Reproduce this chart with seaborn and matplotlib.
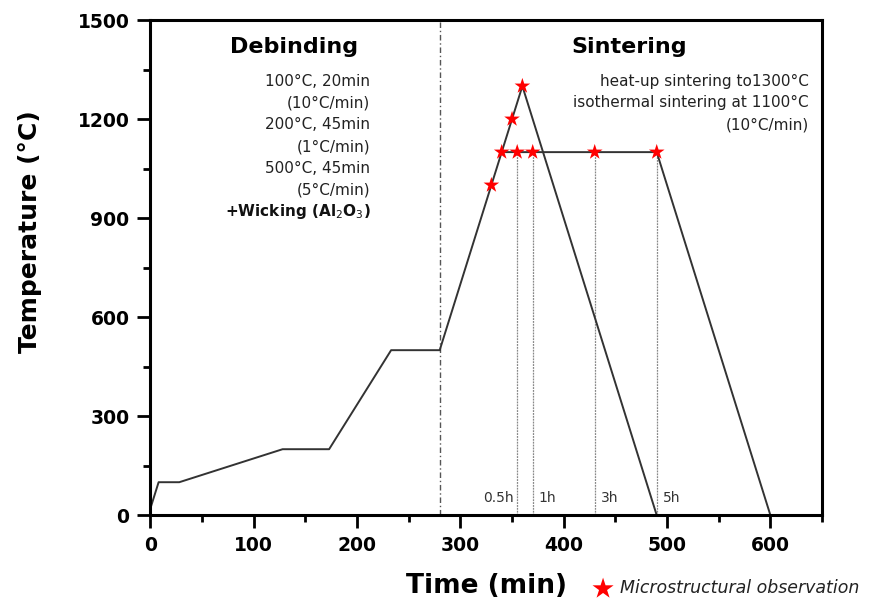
import matplotlib
matplotlib.use("Agg")
import matplotlib.pyplot as plt
import seaborn as sns
from matplotlib.ticker import MultipleLocator

# ---- data ----
debind_time = [0, 8, 28, 128, 173, 233, 280]
debind_temp = [20, 100, 100, 200, 200, 500, 500]

heatup_time = [280, 360, 490]
heatup_temp = [500, 1300, 0]

iso_time = [340, 490, 600]
iso_temp = [1100, 1100, 0]

obs_time = [330, 340, 350, 360, 355, 370, 430, 490]
obs_temp = [1000, 1100, 1200, 1300, 1100, 1100, 1100, 1100]

hold_time = [355, 370, 430, 490]
hold_labels = ["0.5h", "1h", "3h", "5h"]
hold_temp = 1100

stage_split = 280

debind_notes = ["100°C, 20min", "(10°C/min)", "200°C, 45min", "(1°C/min)",
                "500°C, 45min", "(5°C/min)"]
sinter_notes = ["heat-up sintering to1300°C", "isothermal sintering at 1100°C",
                "(10°C/min)"]

sns.set_theme(style="ticks")
plt.rcParams['font.family'] = ['DejaVu Sans']
plt.rcParams['text.color'] = 'black'
plt.rcParams['axes.labelcolor'] = 'black'
plt.rcParams['xtick.color'] = 'black'
plt.rcParams['ytick.color'] = 'black'

fig = plt.figure(figsize=(8.69, 6.09), dpi=100)
ax = fig.add_axes([0.173, 0.154, 0.773, 0.813])

line_col = "#333333"
sns.lineplot(x=debind_time, y=debind_temp, sort=False, ax=ax, color=line_col, lw=1.4)
sns.lineplot(x=heatup_time, y=heatup_temp, sort=False, ax=ax, color=line_col, lw=1.4)
sns.lineplot(x=iso_time, y=iso_temp, sort=False, ax=ax, color=line_col, lw=1.4)

# hold-time guide lines
for t in hold_time:
    ax.plot([t, t], [0, hold_temp], color="#888888", lw=0.9, ls=(0, (1.5, 0.8)), zorder=1)
ax.axvline(stage_split, color="#555555", lw=1.0, ls=(0, (4, 2, 1, 2)), zorder=1)

sns.scatterplot(x=obs_time, y=obs_temp, ax=ax, marker="*", s=140, color="red",
                edgecolor="none", zorder=5, label="Microstructural observation")

# hold labels
ax.text(hold_time[0] - 3, 30, hold_labels[0], ha="right", va="bottom", fontsize=10, color="#333333")
for t, lab in zip(hold_time[1:], hold_labels[1:]):
    ax.text(t + 6, 30, lab, ha="left", va="bottom", fontsize=10, color="#333333")

# stage titles & notes
ax.text(139, 1418, "Debinding", ha="center", va="center", fontsize=16, fontweight="bold")
ax.text(463, 1418, "Sintering", ha="center", va="center", fontsize=16, fontweight="bold")
y0 = 1315
for i, s in enumerate(debind_notes):
    ax.text(213, y0 - i * 66, s, ha="right", va="center", fontsize=11, color="#222222")
ax.text(213, y0 - 6 * 66, "+Wicking (Al$_2$O$_3$)", ha="right", va="center",
        fontsize=11, fontweight="bold", color="#111111")
for i, s in enumerate(sinter_notes):
    ax.text(637, y0 - i * 66, s, ha="right", va="center", fontsize=11, color="#222222")

ax.set_xlim(0, 650)
ax.set_ylim(0, 1500)
ax.xaxis.set_major_locator(MultipleLocator(100))
ax.xaxis.set_minor_locator(MultipleLocator(50))
ax.yaxis.set_major_locator(MultipleLocator(300))
ax.yaxis.set_minor_locator(MultipleLocator(150))
ax.tick_params(which="major", direction="out", length=9.5, width=2, labelsize=13.5, pad=5.5,
               colors="black")
ax.tick_params(which="minor", direction="out", length=5, width=2, colors="black")
for lab in ax.get_xticklabels() + ax.get_yticklabels():
    lab.set_fontweight("bold")
for sp in ax.spines.values():
    sp.set_linewidth(2.2)
    sp.set_color("black")

ax.set_xlabel("Time (min)", fontsize=19, fontweight="bold", color="black")
ax.set_ylabel("Temperature (°C)", fontsize=18, fontweight="bold", color="black")
ax.xaxis.set_label_coords(0.5, -0.116)
ax.yaxis.set_label_coords(-0.161, 0.572)

leg = ax.legend(loc="center left", bbox_to_anchor=(0.664, 0.034), bbox_transform=fig.transFigure,
                frameon=False, handletextpad=0.0, borderpad=0, markerscale=1.35,
                prop={"style": "italic", "size": 12.5})
for t in leg.get_texts():
    t.set_color("#222222")

fig.savefig("out.png", dpi=100)
